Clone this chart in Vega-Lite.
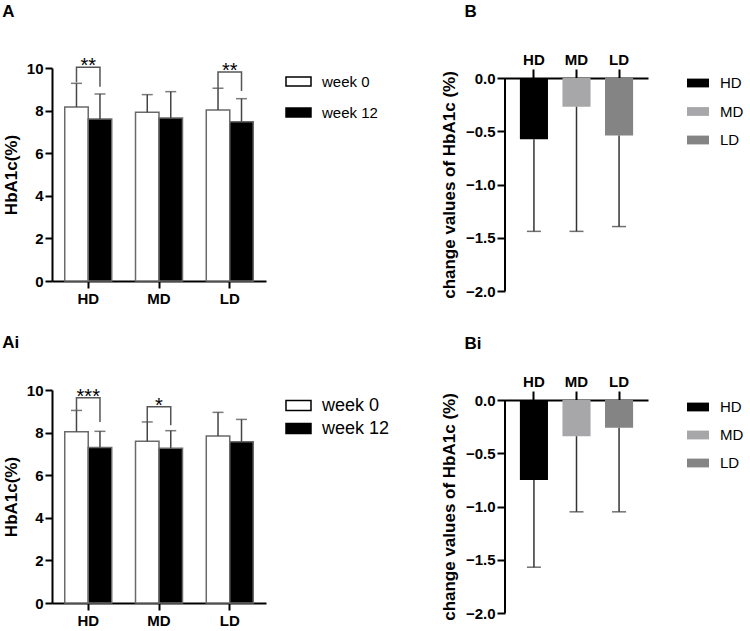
{
  "$schema": "https://vega.github.io/schema/vega-lite/v6.json",
  "padding": {"left": 2, "top": 3, "right": 0, "bottom": 0},
  "background": "white",
  "datasets": {
    "a": [
      {"group": "HD", "week": "week 0", "mean": 8.17, "upper": 9.28},
      {"group": "HD", "week": "week 12", "mean": 7.6, "upper": 8.78},
      {"group": "MD", "week": "week 0", "mean": 7.92, "upper": 8.75},
      {"group": "MD", "week": "week 12", "mean": 7.65, "upper": 8.89},
      {"group": "LD", "week": "week 0", "mean": 8.03, "upper": 9.05},
      {"group": "LD", "week": "week 12", "mean": 7.48, "upper": 8.56}
    ],
    "a_br": [
      {"bracket": "HD", "group": "HD", "week": "week 0", "y": 9.33, "ord": 1},
      {"bracket": "HD", "group": "HD", "week": "week 0", "y": 10.03, "ord": 2},
      {"bracket": "HD", "group": "HD", "week": "week 12", "y": 10.03, "ord": 3},
      {"bracket": "HD", "group": "HD", "week": "week 12", "y": 9.12, "ord": 4},
      {"bracket": "LD", "group": "LD", "week": "week 0", "y": 9.06, "ord": 1},
      {"bracket": "LD", "group": "LD", "week": "week 0", "y": 9.81, "ord": 2},
      {"bracket": "LD", "group": "LD", "week": "week 12", "y": 9.81, "ord": 3},
      {"bracket": "LD", "group": "LD", "week": "week 12", "y": 8.92, "ord": 4}
    ],
    "a_st": [
      {"group": "HD", "y": 10.03, "label": "**"},
      {"group": "LD", "y": 9.81, "label": "**"}
    ],
    "ai": [
      {"group": "HD", "week": "week 0", "mean": 8.04, "upper": 9.04},
      {"group": "HD", "week": "week 12", "mean": 7.3, "upper": 8.06},
      {"group": "MD", "week": "week 0", "mean": 7.59, "upper": 8.5},
      {"group": "MD", "week": "week 12", "mean": 7.26, "upper": 8.09},
      {"group": "LD", "week": "week 0", "mean": 7.84, "upper": 8.95},
      {"group": "LD", "week": "week 12", "mean": 7.57, "upper": 8.62}
    ],
    "ai_br": [
      {"bracket": "HD", "group": "HD", "week": "week 0", "y": 9.04, "ord": 1},
      {"bracket": "HD", "group": "HD", "week": "week 0", "y": 9.64, "ord": 2},
      {"bracket": "HD", "group": "HD", "week": "week 12", "y": 9.64, "ord": 3},
      {"bracket": "HD", "group": "HD", "week": "week 12", "y": 8.5, "ord": 4},
      {"bracket": "MD", "group": "MD", "week": "week 0", "y": 8.5, "ord": 1},
      {"bracket": "MD", "group": "MD", "week": "week 0", "y": 9.21, "ord": 2},
      {"bracket": "MD", "group": "MD", "week": "week 12", "y": 9.21, "ord": 3},
      {"bracket": "MD", "group": "MD", "week": "week 12", "y": 8.35, "ord": 4}
    ],
    "ai_st": [
      {"group": "HD", "y": 9.64, "label": "***"},
      {"group": "MD", "y": 9.21, "label": "*"}
    ],
    "b": [
      {"group": "HD", "mean": -0.574, "lower": -1.44},
      {"group": "MD", "mean": -0.27, "lower": -1.44},
      {"group": "LD", "mean": -0.54, "lower": -1.395}
    ],
    "bi": [
      {"group": "HD", "mean": -0.75, "lower": -1.57},
      {"group": "MD", "mean": -0.34, "lower": -1.05},
      {"group": "LD", "mean": -0.26, "lower": -1.05}
    ]
  },
  "vconcat": [
    {
      "hconcat": [
        {
          "title": {"text": "A", "offset": 35, "dx": 0},
          "width": 214,
          "height": 213,
          "layer": [
            {
              "data": {"name": "a"},
              "mark": {"type": "bar", "stroke": "#6a6a6a", "strokeWidth": 1.5},
              "encoding": {
                "x": {"field": "group", "type": "nominal", "sort": ["HD", "MD", "LD"], "scale": {"paddingInner": 0.336, "paddingOuter": 0.18}, "axis": {"title": null, "labelAngle": 0, "tickSize": 7, "labelPadding": 3, "labelFontSize": 15}},
                "xOffset": {"field": "week", "type": "nominal", "sort": ["week 0", "week 12"], "scale": {"paddingInner": 0, "paddingOuter": 0}},
                "y": {"field": "mean", "type": "quantitative", "title": "HbA1c(%)", "scale": {"domain": [0, 10], "nice": false}, "axis": {"values": [0, 2, 4, 6, 8, 10], "tickSize": 7, "labelPadding": 2, "titlePadding": 6}},
                "fill": {"field": "week", "type": "nominal", "scale": {"domain": ["week 0", "week 12"], "range": ["white", "black"]},
                  "legend": {"orient": "none", "legendX": 233, "legendY": 0, "title": null, "symbolType": "M-1,-0.36H1V0.36H-1Z", "symbolSize": 625, "symbolStrokeColor": "black", "symbolStrokeWidth": 1.5, "labelFontSize": 15, "labelOffset": 10, "rowPadding": 9}}
              }
            },
            {
              "data": {"name": "a"},
              "mark": {"type": "rule", "color": "#444", "strokeWidth": 1.5},
              "encoding": {
                "x": {"field": "group", "type": "nominal", "sort": ["HD", "MD", "LD"]},
                "xOffset": {"field": "week", "type": "nominal", "sort": ["week 0", "week 12"]},
                "y": {"field": "mean", "type": "quantitative", "title": "HbA1c(%)"},
                "y2": {"field": "upper"}
              }
            },
            {
              "data": {"name": "a"},
              "mark": {"type": "tick", "color": "#444", "thickness": 1.5, "size": 11},
              "encoding": {
                "x": {"field": "group", "type": "nominal", "sort": ["HD", "MD", "LD"]},
                "xOffset": {"field": "week", "type": "nominal", "sort": ["week 0", "week 12"]},
                "y": {"field": "upper", "type": "quantitative", "title": "HbA1c(%)"}
              }
            },
            {
              "data": {"name": "a_br"},
              "mark": {"type": "line", "color": "#555", "strokeWidth": 1.5},
              "encoding": {
                "x": {"field": "group", "type": "nominal", "sort": ["HD", "MD", "LD"]},
                "xOffset": {"field": "week", "type": "nominal", "sort": ["week 0", "week 12"]},
                "y": {"field": "y", "type": "quantitative", "title": "HbA1c(%)"},
                "order": {"field": "ord"},
                "detail": {"field": "bracket"}
              }
            },
            {
              "data": {"name": "a_st"},
              "mark": {"type": "text", "fontSize": 20, "baseline": "alphabetic", "dy": 5, "color": "black"},
              "encoding": {
                "x": {"field": "group", "type": "nominal", "sort": ["HD", "MD", "LD"]},
                "y": {"field": "y", "type": "quantitative", "title": "HbA1c(%)"},
                "text": {"field": "label"}
              }
            }
          ]
        },
        {
          "title": {"text": "B", "offset": 31, "dx": 24},
          "width": 143,
          "height": 223,
          "layer": [
            {
              "layer": [
                {
                  "data": {"name": "b"},
                  "mark": {"type": "bar"},
                  "encoding": {
                    "x": {"field": "group", "type": "nominal", "sort": ["HD", "MD", "LD"], "scale": {"paddingInner": 0.34, "paddingOuter": 0.35}, "axis": {"orient": "top", "offset": -10, "title": null, "labelAngle": 0, "tickSize": 9, "labelPadding": 2, "labelFontSize": 15}},
                    "y": {"field": "mean", "type": "quantitative", "title": "change values of HbA1c (%)", "scale": {"domain": [-2, 0.0939], "nice": false, "zero": false}, "axis": {"values": [-2, -1.5, -1, -0.5, 0], "format": ".1f", "domain": false, "tickSize": 8, "labelPadding": 2, "titlePadding": 7, "titleY": 116.5}},
                    "fill": {"field": "group", "type": "nominal", "sort": ["HD", "MD", "LD"], "scale": {"domain": ["HD", "MD", "LD"], "range": ["#000000", "#a7a7a9", "#848484"]},
                      "legend": {"orient": "none", "legendX": 182, "legendY": 4, "title": null, "symbolType": "M-1,-0.4H1V0.4H-1Z", "symbolSize": 484, "symbolStrokeWidth": 0, "labelFontSize": 15, "labelOffset": 11, "rowPadding": 9.5}}
                  }
                },
                {
                  "data": {"name": "b"},
                  "mark": {"type": "rule", "color": "#333", "strokeWidth": 1.5},
                  "encoding": {
                    "x": {"field": "group", "type": "nominal", "sort": ["HD", "MD", "LD"]},
                    "y": {"field": "mean", "type": "quantitative", "title": "change values of HbA1c (%)"},
                    "y2": {"field": "lower"}
                  }
                },
                {
                  "data": {"name": "b"},
                  "mark": {"type": "tick", "color": "#333", "thickness": 1.5, "size": 14},
                  "encoding": {
                    "x": {"field": "group", "type": "nominal", "sort": ["HD", "MD", "LD"]},
                    "y": {"field": "lower", "type": "quantitative", "title": "change values of HbA1c (%)"}
                  }
                }
              ]
            },
            {
              "data": {"values": [{}]},
              "mark": {"type": "rule", "color": "black", "strokeWidth": 2},
              "encoding": {
                "x": {"datum": 0, "type": "quantitative", "scale": {"domain": [0, 1]}, "axis": null},
                "y": {"datum": 0, "type": "quantitative", "title": "change values of HbA1c (%)"},
                "y2": {"datum": -2}
              }
            }
          ],
          "resolve": {"scale": {"x": "independent"}, "axis": {"x": "independent"}}
        }
      ],
      "spacing": 62,
      "resolve": {"scale": {"fill": "independent"}, "legend": {"fill": "independent"}}
    },
    {
      "hconcat": [
        {
          "title": {"text": "Ai", "offset": 31, "dx": 0},
          "width": 214,
          "height": 213,
          "layer": [
            {
              "data": {"name": "ai"},
              "mark": {"type": "bar", "stroke": "#6a6a6a", "strokeWidth": 1.5},
              "encoding": {
                "x": {"field": "group", "type": "nominal", "sort": ["HD", "MD", "LD"], "scale": {"paddingInner": 0.336, "paddingOuter": 0.18}, "axis": {"title": null, "labelAngle": 0, "tickSize": 7, "labelPadding": 3, "labelFontSize": 15}},
                "xOffset": {"field": "week", "type": "nominal", "sort": ["week 0", "week 12"], "scale": {"paddingInner": 0, "paddingOuter": 0}},
                "y": {"field": "mean", "type": "quantitative", "title": "HbA1c(%)", "scale": {"domain": [0, 10], "nice": false}, "axis": {"values": [0, 2, 4, 6, 8, 10], "tickSize": 7, "labelPadding": 2, "titlePadding": 6}},
                "fill": {"field": "week", "type": "nominal", "scale": {"domain": ["week 0", "week 12"], "range": ["white", "black"]},
                  "legend": {"orient": "none", "legendX": 233, "legendY": 2, "title": null, "symbolType": "M-1,-0.4H1V0.4H-1Z", "symbolSize": 625, "symbolStrokeColor": "black", "symbolStrokeWidth": 1.5, "labelFontSize": 18, "labelOffset": 10, "rowPadding": 0}}
              }
            },
            {
              "data": {"name": "ai"},
              "mark": {"type": "rule", "color": "#444", "strokeWidth": 1.5},
              "encoding": {
                "x": {"field": "group", "type": "nominal", "sort": ["HD", "MD", "LD"]},
                "xOffset": {"field": "week", "type": "nominal", "sort": ["week 0", "week 12"]},
                "y": {"field": "mean", "type": "quantitative", "title": "HbA1c(%)"},
                "y2": {"field": "upper"}
              }
            },
            {
              "data": {"name": "ai"},
              "mark": {"type": "tick", "color": "#444", "thickness": 1.5, "size": 11},
              "encoding": {
                "x": {"field": "group", "type": "nominal", "sort": ["HD", "MD", "LD"]},
                "xOffset": {"field": "week", "type": "nominal", "sort": ["week 0", "week 12"]},
                "y": {"field": "upper", "type": "quantitative", "title": "HbA1c(%)"}
              }
            },
            {
              "data": {"name": "ai_br"},
              "mark": {"type": "line", "color": "#555", "strokeWidth": 1.5},
              "encoding": {
                "x": {"field": "group", "type": "nominal", "sort": ["HD", "MD", "LD"]},
                "xOffset": {"field": "week", "type": "nominal", "sort": ["week 0", "week 12"]},
                "y": {"field": "y", "type": "quantitative", "title": "HbA1c(%)"},
                "order": {"field": "ord"},
                "detail": {"field": "bracket"}
              }
            },
            {
              "data": {"name": "ai_st"},
              "mark": {"type": "text", "fontSize": 20, "baseline": "alphabetic", "dy": 5, "color": "black"},
              "encoding": {
                "x": {"field": "group", "type": "nominal", "sort": ["HD", "MD", "LD"]},
                "y": {"field": "y", "type": "quantitative", "title": "HbA1c(%)"},
                "text": {"field": "label"}
              }
            }
          ]
        },
        {
          "title": {"text": "Bi", "offset": 21, "dx": 24},
          "width": 143,
          "height": 223,
          "layer": [
            {
              "layer": [
                {
                  "data": {"name": "bi"},
                  "mark": {"type": "bar"},
                  "encoding": {
                    "x": {"field": "group", "type": "nominal", "sort": ["HD", "MD", "LD"], "scale": {"paddingInner": 0.34, "paddingOuter": 0.35}, "axis": {"orient": "top", "offset": -10, "title": null, "labelAngle": 0, "tickSize": 9, "labelPadding": 2, "labelFontSize": 15}},
                    "y": {"field": "mean", "type": "quantitative", "title": "change values of HbA1c (%)", "scale": {"domain": [-2, 0.0939], "nice": false, "zero": false}, "axis": {"values": [-2, -1.5, -1, -0.5, 0], "format": ".1f", "domain": false, "tickSize": 8, "labelPadding": 2, "titlePadding": 7, "titleY": 116.5}},
                    "fill": {"field": "group", "type": "nominal", "sort": ["HD", "MD", "LD"], "scale": {"domain": ["HD", "MD", "LD"], "range": ["#000000", "#a7a7a9", "#848484"]},
                      "legend": {"orient": "none", "legendX": 182, "legendY": 6, "title": null, "symbolType": "M-1,-0.4H1V0.4H-1Z", "symbolSize": 484, "symbolStrokeWidth": 0, "labelFontSize": 15, "labelOffset": 11, "rowPadding": 9}}
                  }
                },
                {
                  "data": {"name": "bi"},
                  "mark": {"type": "rule", "color": "#333", "strokeWidth": 1.5},
                  "encoding": {
                    "x": {"field": "group", "type": "nominal", "sort": ["HD", "MD", "LD"]},
                    "y": {"field": "mean", "type": "quantitative", "title": "change values of HbA1c (%)"},
                    "y2": {"field": "lower"}
                  }
                },
                {
                  "data": {"name": "bi"},
                  "mark": {"type": "tick", "color": "#333", "thickness": 1.5, "size": 14},
                  "encoding": {
                    "x": {"field": "group", "type": "nominal", "sort": ["HD", "MD", "LD"]},
                    "y": {"field": "lower", "type": "quantitative", "title": "change values of HbA1c (%)"}
                  }
                }
              ]
            },
            {
              "data": {"values": [{}]},
              "mark": {"type": "rule", "color": "black", "strokeWidth": 2},
              "encoding": {
                "x": {"datum": 0, "type": "quantitative", "scale": {"domain": [0, 1]}, "axis": null},
                "y": {"datum": 0, "type": "quantitative", "title": "change values of HbA1c (%)"},
                "y2": {"datum": -2}
              }
            }
          ],
          "resolve": {"scale": {"x": "independent"}, "axis": {"x": "independent"}}
        }
      ],
      "spacing": 50,
      "resolve": {"scale": {"fill": "independent"}, "legend": {"fill": "independent"}}
    }
  ],
  "spacing": 28,
  "resolve": {"scale": {"fill": "independent"}, "legend": {"fill": "independent"}},
  "config": {
    "font": "Liberation Sans",
    "view": {"stroke": null},
    "axis": {"domainColor": "black", "domainWidth": 2, "tickColor": "black", "tickWidth": 2, "labelFont": "Liberation Sans", "labelFontWeight": "bold", "labelFontSize": 15, "labelColor": "black", "titleFont": "Liberation Sans", "titleFontWeight": "bold", "titleFontSize": 17, "titleColor": "black", "grid": false},
    "legend": {"labelFont": "Liberation Sans", "labelColor": "black"},
    "title": {"anchor": "start", "frame": "bounds", "fontSize": 17, "fontWeight": "bold", "color": "black", "font": "Liberation Sans"}
  }
}
